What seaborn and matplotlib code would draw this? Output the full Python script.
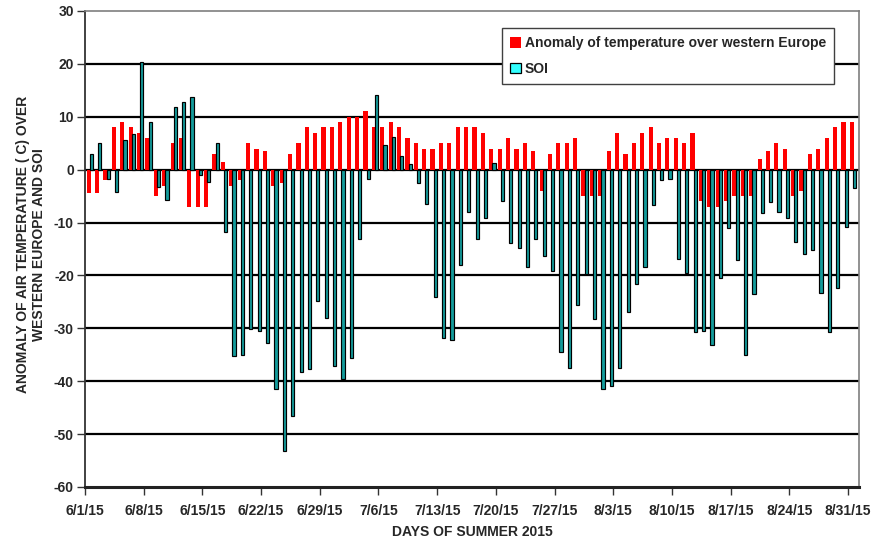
import matplotlib
matplotlib.use("Agg")
import matplotlib.pyplot as plt
from matplotlib.patches import Patch
import numpy as np
import pandas as pd
import seaborn as sns

# daily values, 6/1/15 .. 8/31/15
temp_anomaly = [-4.5, -4.5, -2, 8, 9, 8, 7, 6, -5, -3, 5, 6, -7, -7, -7, 3, 1.5, -3, -2, 5,
                4, 3.5, -3, -2.5, 3, 5, 8, 7, 8, 8, 9, 10, 10, 11, 8, 8, 9, 8, 6, 5,
                4, 4, 5, 5, 8, 8, 8, 7, 4, 4, 6, 4, 5, 3.5, -4, 3, 5, 5, 6, -5,
                -5, -5, 3.5, 7, 3, 5, 7, 8, 5, 6, 6, 5, 7, -6, -7, -7, -6, -5, -5, -5,
                2, 3.5, 5, 4, -5, -4, 3, 4, 6, 8, 9, 9]
soi = [3, 5, -1.7, -4.3, 5.7, 6.7, 20.3, 9.1, -3.3, -5.8, 11.9, 12.7, 13.7, -1.1, -2.4, 5,
       -11.8, -35.2, -35.1, -30.2, -30.5, -32.7, -41.4, -53.1, -46.5, -38.2, -37.6, -24.8,
       -28, -37.1, -39.6, -35.7, -13.2, -1.8, 14.2, 4.7, 6.1, 2.6, 1.1, -2.5, -6.4, -24.1,
       -31.8, -32.2, -18.1, -8, -13.2, -9.1, 1.2, -6, -13.8, -14.8, -18.4, -13.1, -16.4,
       -19.2, -34.4, -37.5, -25.6, -19.8, -28.3, -41.5, -40.9, -37.5, -27, -21.7, -18.4,
       -6.7, -1.9, -1.8, -16.9, -19.5, -30.7, -30.5, -33.1, -20.4, -11, -17, -35, -23.6,
       -8.2, -6.1, -8, -9.1, -13.7, -16, -15.2, -23.4, -30.7, -22.3, -10.9, -3.5]
dates = pd.date_range("2015-06-01", "2015-08-31", freq="D")
tick_labels = [f"{d.month}/{d.day}/15" for d in dates[::7]]

df = pd.DataFrame({"day": np.arange(len(dates)), "temp": temp_anomaly, "soi": soi})

sns.set_style("white")
plt.rcParams["font.family"] = ["Liberation Sans", "DejaVu Sans"]
plt.rcParams["font.weight"] = "bold"
plt.rcParams["axes.unicode_minus"] = False

fig = plt.figure(figsize=(8.91, 5.40), dpi=100)
ax = fig.add_axes([85 / 891, 1 - 487 / 540, (859 - 85) / 891, (487 - 11) / 540])

sns.barplot(x=df["day"] + 0.45, y=df["temp"], native_scale=True, width=0.5,
            color="#FF0000", saturation=1, errorbar=None, linewidth=0, ax=ax)
sns.barplot(x=df["day"] + 0.77, y=df["soi"], native_scale=True, width=0.38,
            color="#149C9C", saturation=1, errorbar=None, edgecolor="black",
            linewidth=0.85, ax=ax)

ax.set_xlim(0, 92.3)
ax.set_ylim(-60, 30)
ax.set_yticks(range(-60, 31, 10))
ax.set_xticks(df["day"][::7])
ax.set_xticklabels(tick_labels)

ax.yaxis.grid(True, color="black", linewidth=1.6)
ax.set_axisbelow(True)
grid = ax.get_ygridlines()
grid[0].set_visible(False)
grid[-1].set_visible(False)

for side in ["top", "right"]:
    ax.spines[side].set_color("#7f7f7f")
    ax.spines[side].set_linewidth(1.2)
ax.spines["left"].set_color("#333333")
ax.spines["left"].set_linewidth(1.3)
ax.spines["bottom"].set_color("#222222")
ax.spines["bottom"].set_linewidth(2.2)

ax.tick_params(axis="both", direction="out", length=6, width=1, color="#333333",
               labelsize=10, bottom=True, left=True)
ax.tick_params(axis="x", pad=6)
ax.tick_params(axis="y", pad=2)
for lab in ax.get_xticklabels() + ax.get_yticklabels():
    lab.set_fontweight("bold")

ax.set_xlabel("DAYS OF SUMMER 2015", fontsize=10, fontweight="bold", labelpad=5)
ax.set_ylabel("ANOMALY OF AIR TEMPERATURE ( C) OVER\nWESTERN EUROPE AND SOI",
              fontsize=10, fontweight="bold")
ax.yaxis.set_label_coords((46 - 85) / 774, 0.51)

handles = [Patch(facecolor="#FF0000", edgecolor="none"),
           Patch(facecolor="#33FFFF", edgecolor="black", linewidth=0.9)]
leg = ax.legend(handles, ["Anomaly of temperature over western Europe", "SOI"],
                loc="upper left", bbox_to_anchor=(417 / 774, 1 - 17 / 476),
                prop={"size": 10, "weight": "bold"}, frameon=True, fancybox=False,
                edgecolor="#404040", framealpha=1, handlelength=0.75, handleheight=0.75,
                handletextpad=0.3, labelspacing=0.85, borderpad=0.6, borderaxespad=0)
leg.get_frame().set_linewidth(1.0)

plt.savefig("out.png", dpi=100)
